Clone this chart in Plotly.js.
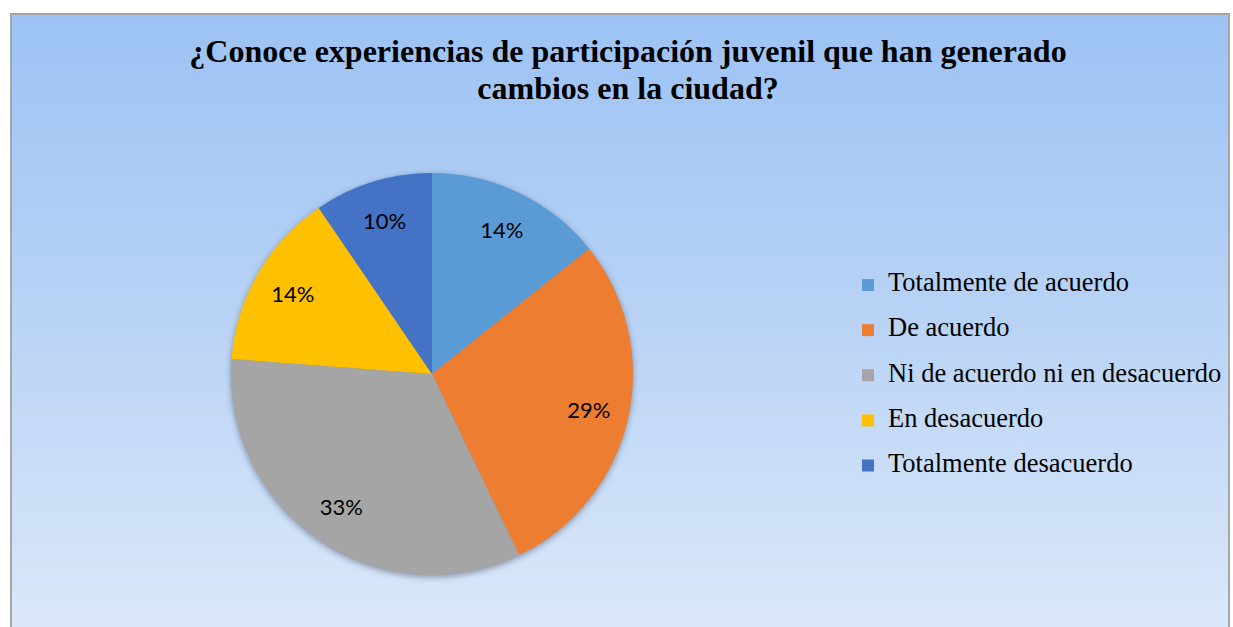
<!DOCTYPE html>
<html>
<head>
<meta charset="utf-8">
<script src="https://cdn.plot.ly/plotly-3.0.1.min.js"></script>
<style>
  html, body { margin: 0; padding: 0; background: #ffffff; }
  #frame {
    position: absolute; left: 10px; top: 13px; width: 1220px; height: 640px;
    border: 2px solid #a6a6a6; box-sizing: border-box;
    background: linear-gradient(to bottom, #9cc3f4 0%, #b4d0f5 40%, #dde9f9 100%);
  }
  #chart { position: absolute; left: 0; top: 0; width: 1233px; height: 627px; }
  #chart .pielayer .trace:first-child { filter: drop-shadow(0px 2px 3px rgba(40, 50, 70, 0.45)); }
</style>
</head>
<body>
<div id="frame"></div>
<div id="chart"></div>
<script>
const titleLines = [
  "¿Conoce experiencias de participación juvenil que han generado",
  "cambios en la ciudad?"
];
const categories = [
  "Totalmente de acuerdo",
  "De acuerdo",
  "Ni de acuerdo ni en desacuerdo",
  "En desacuerdo",
  "Totalmente desacuerdo"
];
const responses = [3, 6, 7, 3, 2];
const sliceColors = ["#5b9bd5", "#ed7d31", "#a5a5a5", "#ffc000", "#4472c4"];

const W = 1233, H = 627;
const cx = 432, cy = 374, r = 201;
const pieDomain = {
  x: [(cx - r) / W, (cx + r) / W],
  y: [1 - (cy + r) / H, 1 - (cy - r) / H]
};

const serif = "Liberation Serif, Times New Roman, serif";
const legendLabels = categories.map(c => '<span style="font-size:26.5px">' + c + '</span><br> ');
const titleHtml = titleLines.map(t => '<span style="font-size:32px">' + t + '</span>').join('<br>');

// filled pie with legend
const pieTrace = {
  type: "pie",
  values: responses,
  labels: legendLabels,
  hovertext: categories,
  sort: false,
  direction: "clockwise",
  rotation: 0,
  textinfo: "none",
  marker: { colors: sliceColors, line: { width: 0 } },
  domain: pieDomain,
  showlegend: true
};

// transparent ring carrying the percent labels further out
const labelTrace = {
  type: "pie",
  values: responses,
  labels: categories,
  sort: false,
  direction: "clockwise",
  rotation: 0,
  hole: 0.6,
  textinfo: "percent",
  texttemplate: "%{percent:.0%}",
  textposition: "inside",
  insidetextorientation: "horizontal",
  insidetextfont: { family: "Lato, Open Sans, sans-serif", size: 22, color: "#000000" },
  marker: { colors: sliceColors.map(() => "rgba(0,0,0,0)"), line: { width: 0 } },
  domain: pieDomain,
  showlegend: false
};

const layout = {
  width: W, height: H,
  margin: { l: 0, r: 0, t: 0, b: 0 },
  paper_bgcolor: "rgba(0,0,0,0)",
  plot_bgcolor: "rgba(0,0,0,0)",
  title: {
    text: "<b>" + titleHtml + "</b>",
    font: { family: serif, size: 28.5, color: "#000000" },
    x: 628 / W, xanchor: "center",
    xref: "paper",
    yref: "container", y: 1 - 62 / H, yanchor: "top"
  },
  legend: {
    x: 848 / W, xanchor: "left",
    y: 1 - 268 / H, yanchor: "top",
    valign: "top",
    bgcolor: "rgba(0,0,0,0)",
    font: { family: serif, size: 16.2, color: "#000000" }
  },
  showlegend: true
};

Plotly.newPlot("chart", [pieTrace, labelTrace], layout, { displayModeBar: false, staticPlot: true });
</script>
</body>
</html>
